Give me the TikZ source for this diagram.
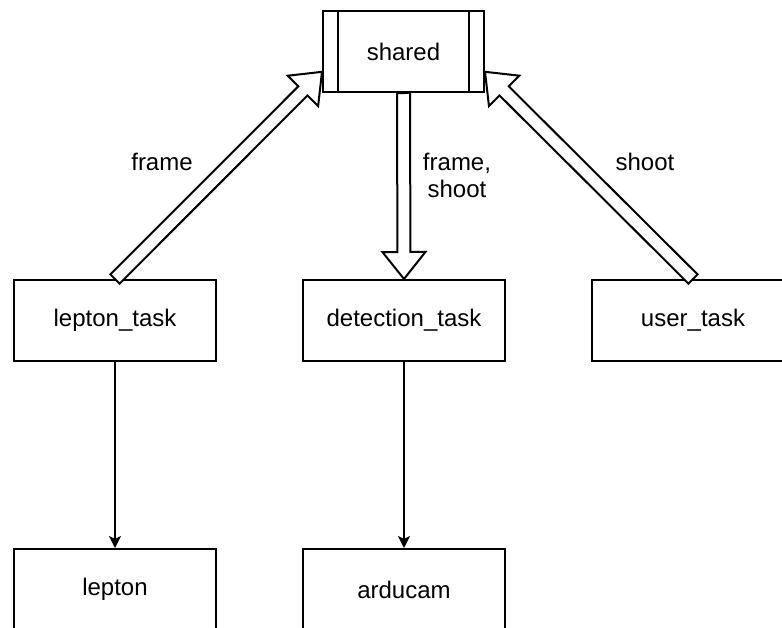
\documentclass[tikz,border=0pt]{standalone}
\usepackage{fontspec}
\setmainfont{Liberation Sans}
\usetikzlibrary{arrows.meta,calc}
\tikzset{
  task/.style={draw, line width=1pt, fill=white, minimum width=101pt,
    minimum height=40.5pt, inner sep=0pt, font=\fontsize{12}{13.5}\selectfont},
  store/.style={task, minimum width=80.5pt},
  lbl/.style={font=\fontsize{12}{13.5}\selectfont, align=center},
  flow/.style={line width=1pt, -{Stealth[length=6pt,width=6pt,inset=1.5pt]}},
  fat/.style={line width=1pt, fill=white, line join=miter},
}
\newcommand{\fatarrow}[2]{%
  \coordinate (hb) at ($(#2)!13.5pt!(#1)$);
  \draw[fat] ($(#1)!3.25pt!90:(#2)$) -- ($(hb)!3.25pt!90:(#2)$)
    -- ($(hb)!10.75pt!90:(#2)$) -- (#2) -- ($(hb)!10.75pt!-90:(#2)$)
    -- ($(hb)!3.25pt!-90:(#2)$) -- ($(#1)!3.25pt!-90:(#2)$) -- cycle;}

\begin{document}
\begin{tikzpicture}[x=0.5pt, y=-0.5pt]
      \useasboundingbox (0,0) rectangle (782,627);
      \clip (0,0) rectangle (782,627);
      \node[store] (shared) at (403.5, 51.5) {shared};
      \draw[line width=1pt] ($(shared.north west)+(16,0)$) -- ($(shared.south west)+(16,0)$);
      \draw[line width=1pt] ($(shared.north east)+(-16,0)$) -- ($(shared.south east)+(-16,0)$);
      \node[task] (ltask) at (115, 320.5) {lepton\_task};
      \node[task] (dtask) at (404, 320.5) {detection\_task};
      \node[task] (utask) at (693, 320.5) {user\_task};
      \node[task] (lepton) at (115, 589.5) {lepton};
      \node[task] (arducam) at (404, 589.5) {arducam};
      \fatarrow{ltask.north}{shared.194}
      \fatarrow{shared.south}{dtask.north}
      \fatarrow{utask.north}{shared.-14}
      \draw[flow] (ltask) -- (lepton);
      \draw[flow] (dtask) -- (arducam);
      \node[lbl] (lframe) at (162, 162) {frame};
      \node[lbl] (lboth) at (457, 175) {frame,\\shoot};
      \node[lbl] (lshoot) at (645, 162) {shoot};
    \end{tikzpicture}
\end{document}
